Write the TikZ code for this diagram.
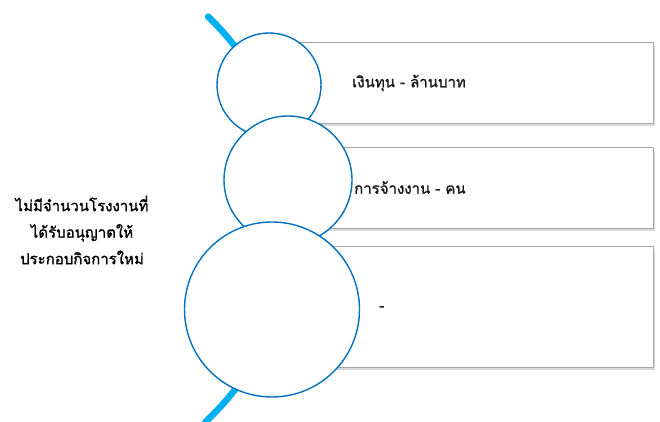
\documentclass[tikz,border=0pt]{standalone}
\usepackage{fontspec}
\newfontfamily\thaifont[Script=Thai, FakeBold=1.3]{Loma}
\usetikzlibrary{positioning, shadows}
\definecolor{ringblue}{HTML}{0070C0}
\definecolor{arcblue}{HTML}{00B0F0}
\definecolor{cardedge}{HTML}{A6A6A6}

\begin{document}
\begin{tikzpicture}[
  x=1pt, y=1pt,
  bubble/.style={circle, draw=ringblue, fill=white, line width=1.4pt, inner sep=0pt},
  card/.style={draw=cardedge, fill=white, line width=0.8pt, anchor=west,
               drop shadow={shadow xshift=1.5pt, shadow yshift=-2.5pt, opacity=0.3, fill=black!50}},
  lbl/.style={font=\thaifont\fontsize{15}{17}\selectfont, text=black!90, inner sep=0pt},
  side/.style={font=\thaifont\fontsize{15}{26.5}\selectfont, align=center, inner sep=0pt}
]
  \useasboundingbox (0,0) rectangle (660,421);

  % arc behind the list
  \draw[arcblue, line width=6.5pt, line cap=round]
    (15,203) ++(46.2:279) arc[start angle=46.2, end angle=-47, radius=279];

  % rows
  \node[card, minimum width=384pt, minimum height=81pt] (r1) at (269,338) {};
  \node[bubble, minimum size=104pt] (c1) at (269,336) {};
  \node[lbl, right=83pt of r1.west] (t1) {เงินทุน - ล้านบาท};

  \node[card, minimum width=365pt, minimum height=81pt] (r2) at (288,233.5) {};
  \node[bubble, minimum size=128pt] (c2) at (288,241) {};
  \node[lbl, right=66pt of r2.west] (t2) {การจ้างงาน - คน};

  \node[card, minimum width=381pt, minimum height=121pt] (r3) at (272,114.5) {};
  \node[bubble, minimum size=175pt] (c3) at (272,111.5) {};
  \node[lbl, right=107pt of r3.west, yshift=-2pt] (t3) {-};

  % side note
  \node[side] (note) at (82,191)
    {ไม่มีจำนวนโรงงานที่\\ได้รับอนุญาตให้\\ประกอบกิจการใหม่};
\end{tikzpicture}
\end{document}
